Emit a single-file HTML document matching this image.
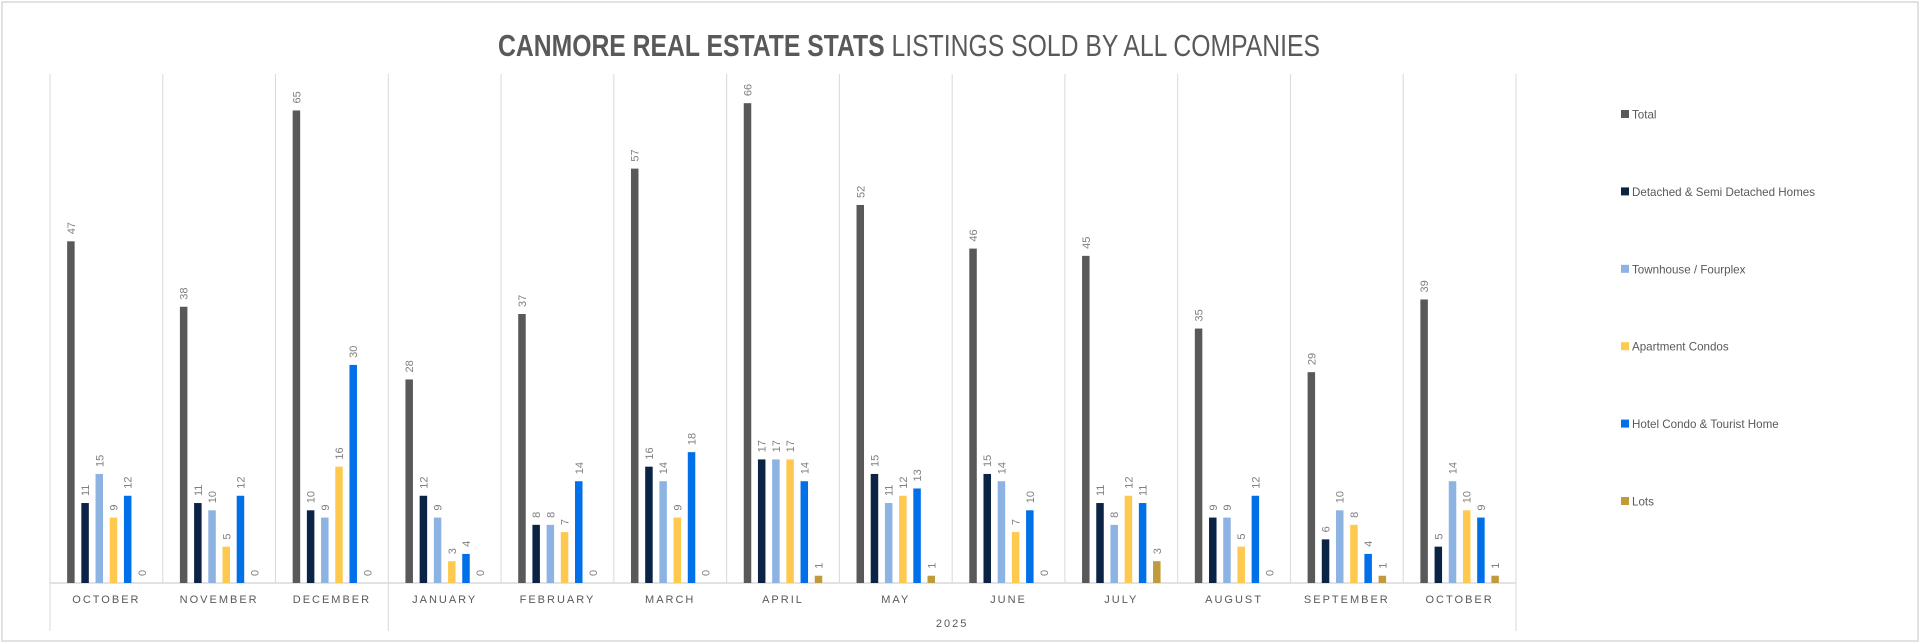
<!DOCTYPE html>
<html><head><meta charset="utf-8"><style>
html,body{margin:0;padding:0;background:#fff;}
svg{display:block;font-family:"Liberation Sans",sans-serif;}
</style></head><body>
<svg id="chart" width="1920" height="644" viewBox="0 0 1920 644">
<rect x="2" y="2" width="1916" height="639" fill="#fff" stroke="#d9d9d9" stroke-width="1.5"/>
<text x="498" y="56" textLength="822" lengthAdjust="spacingAndGlyphs" font-size="31" fill="#595959"><tspan font-weight="bold">CANMORE REAL ESTATE STATS</tspan> LISTINGS SOLD BY ALL COMPANIES</text>
<g id="grid"></g>
<g id="bars"></g>
<g id="legend"></g>
</svg>
<script>
const months = ["OCTOBER","NOVEMBER","DECEMBER","JANUARY","FEBRUARY","MARCH","APRIL","MAY","JUNE","JULY","AUGUST","SEPTEMBER","OCTOBER"];
const seriesNames = ["Total","Detached & Semi Detached Homes","Townhouse / Fourplex","Apartment Condos","Hotel Condo & Tourist Home","Lots"];
const total = [47,38,65,28,37,57,66,52,46,45,35,29,39];
const detached = [11,11,10,12,8,16,17,15,15,11,9,6,5];
const townhouse = [15,10,9,9,8,14,17,11,14,8,9,10,14];
const apartment = [9,5,16,3,7,9,17,12,7,12,5,8,10];
const hotel = [12,12,30,4,14,18,14,13,10,11,12,4,9];
const lots = [0,0,0,0,0,0,1,1,0,3,0,1,1];
const yearLabel = "2025";

const series = [total,detached,townhouse,apartment,hotel,lots];
const colors = ["#595959","#0b2345","#8db3e2","#ffc94f","#0070e8","#c09a3c"];
const NS = "http://www.w3.org/2000/svg";
const plotL = 50, plotR = 1516, baseY = 583, topY = 74;
const groupW = (plotR - plotL) / months.length;
const pxPerUnit = 7.27;
const slot = 14.2, barW = 7.5;
function xGroup(i){ return plotL + i * groupW; }
function xBar(i, s){ return xGroup(i) + (groupW - slot * series.length) / 2 + s * slot + (slot - barW) / 2; }
function yVal(v){ return baseY - v * pxPerUnit; }
function mk(tag, attrs, parent){ const e = document.createElementNS(NS, tag); for (const k in attrs) e.setAttribute(k, attrs[k]); parent.appendChild(e); return e; }

const grid = document.getElementById("grid");
for (let i = 0; i <= months.length; i++) {
  const x = xGroup(i);
  const long = (i === 0 || i === 3 || i === months.length);
  const l = mk("line", {x1:x, x2:x, y1:topY, y2: long ? 631 : 583, stroke:"#d9d9d9", "stroke-width":1}, grid);
  
  
}
const axis = mk("line", {x1:plotL, x2:plotR, y1:baseY, y2:baseY, stroke:"#d9d9d9", "stroke-width":1.5}, grid);


months.forEach((m, i) => {
  const t = mk("text", {x: xGroup(i) + groupW/2, y: 603, "text-anchor":"middle", "font-size":11, "letter-spacing":"2", fill:"#595959"}, grid);
  t.textContent = m;
  
  
});
const yr = mk("text", {x: (xGroup(3) + plotR)/2, y: 627, "text-anchor":"middle", "font-size":11, "letter-spacing":"2", fill:"#595959"}, grid);
yr.textContent = yearLabel;



const bars = document.getElementById("bars");
series.forEach((vals, s) => {
  vals.forEach((v, i) => {
    const x = xBar(i, s);
    if (v > 0) {
      const r = mk("rect", {x:x, y:yVal(v), width:barW, height:v * pxPerUnit, fill:colors[s]}, bars);
      
      
    }
    const ly = yVal(v) - 7;
    const t = mk("text", {x:0, y:0, transform:`translate(${x + barW/2 + 4},${ly}) rotate(-90)`, "font-size":11, fill:"#7f7f7f"}, bars);
    t.textContent = v;
    
    
  });
});

const legend = document.getElementById("legend");
seriesNames.forEach((n, s) => {
  const y = 114 + s * 77.4;
  const g = mk("g", {}, legend);
  
  
  mk("rect", {x:1621, y:y - 4, width:8, height:8, fill:colors[s]}, g);
  const t = mk("text", {x:1632, y:y + 4.5, "font-size":11.6, fill:"#595959"}, g);
  t.textContent = n;
});
</script>
</body></html>
